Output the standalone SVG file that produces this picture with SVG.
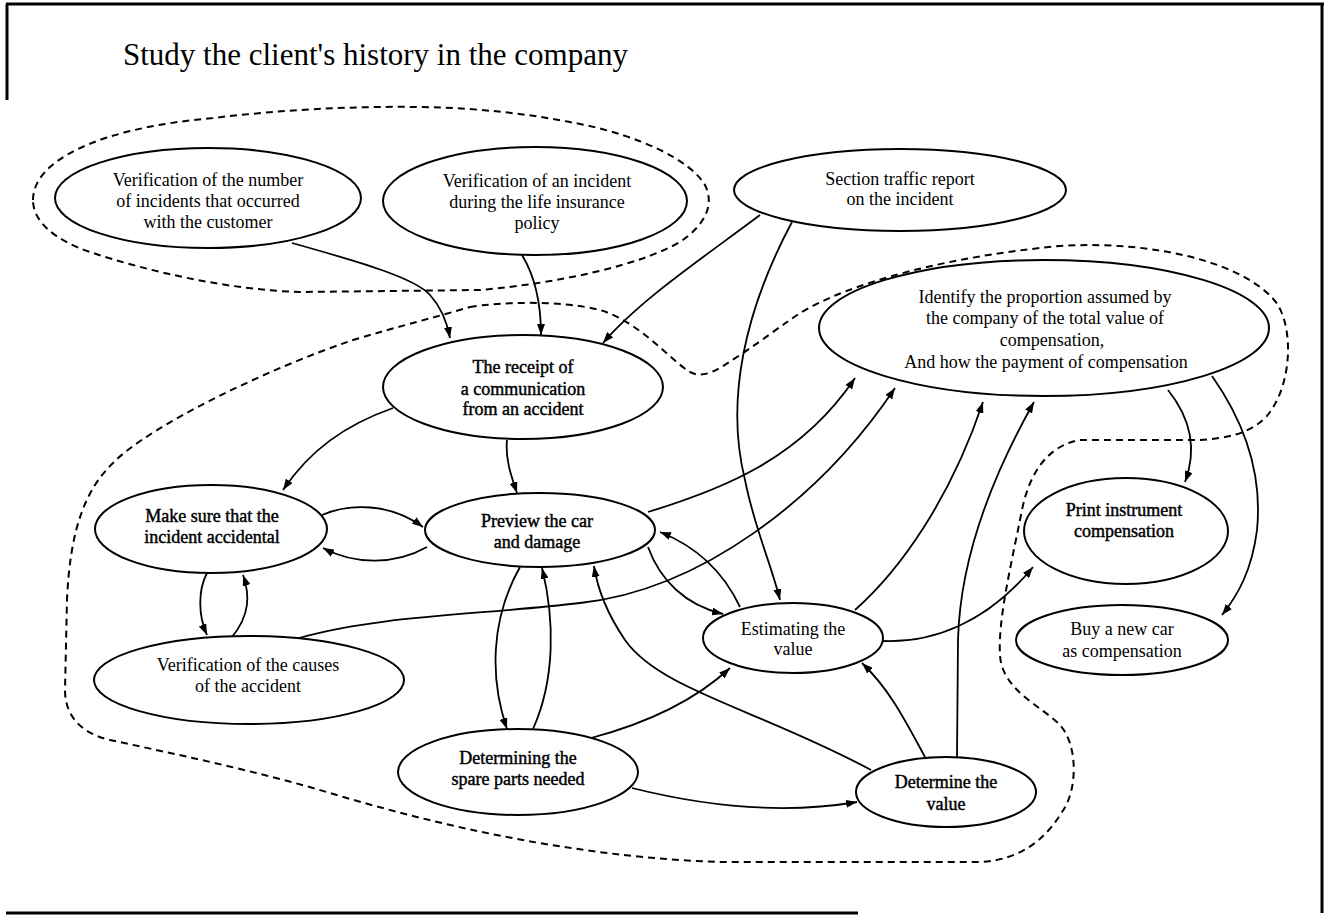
<svg xmlns="http://www.w3.org/2000/svg" width="1329" height="917" viewBox="0 0 1329 917">
  <style>
    .frame { stroke: #000; stroke-width: 3; fill: none; }
    .zone { fill: none; stroke: #000; stroke-width: 2; stroke-dasharray: 7 5; }
    .edge { fill: none; stroke: #000; stroke-width: 1.8; marker-end: url(#arrow); }
    .node ellipse { fill: #fff; stroke: #000; stroke-width: 2; }
    .node text { font-family: "Liberation Serif", "Times New Roman", serif; font-size: 18px; text-anchor: middle; fill: #000; }
    .node.heavy text { stroke: #000; stroke-width: 0.45; }
    .title { font-family: "Liberation Serif", "Times New Roman", serif; font-size: 31px; fill: #000; }
  </style>
  <defs>
    <marker id="arrow" markerUnits="userSpaceOnUse" markerWidth="11" markerHeight="8" refX="11" refY="4" orient="auto">
      <path d="M0,0 L11,4 L0,8 z" fill="#000"/>
    </marker>
  </defs>

  <rect width="1329" height="917" fill="#fff"/>

  <!-- page frame -->
  <g id="frame">
    <line class="frame" x1="6" y1="4" x2="1324" y2="4"/>
    <line class="frame" x1="1322" y1="3" x2="1322" y2="913"/>
    <line class="frame" x1="6" y1="913" x2="858" y2="913"/>
    <line class="frame" x1="7" y1="4" x2="7" y2="100"/>
  </g>

  <text class="title" x="123" y="65">Study the client's history in the company</text>

  <!-- dashed zones -->
  <g id="zones">
    <path class="zone" d="M33,200 C33,160 100,128 213,118 C280,110 350,106 420,107 C480,108 530,114 580,124 C640,136 690,160 705,185 C715,205 705,225 680,242 C640,265 560,283 480,290 L300,292 C230,290 150,272 90,252 C55,240 33,222 33,200 Z"/>
    <path class="zone" d="M470,307 C500,302 560,300 600,310 C640,322 670,360 690,372 C705,380 720,368 740,355 C760,342 775,330 790,320 C830,290 930,258 1060,246 C1160,240 1250,265 1278,305 C1295,335 1290,390 1266,417 C1250,433 1230,438 1200,440 L1080,440 C1050,445 1030,470 1022,510 C1010,570 998,620 1000,655 C1002,690 1040,705 1060,725 C1078,745 1078,790 1062,812 C1045,840 1020,860 980,862 L720,862 C600,858 470,835 330,793 C260,772 180,755 110,740 C80,733 65,715 65,690 L67,600 C70,530 85,490 113,463 C150,425 270,368 353,340 C400,326 440,316 470,307 Z"/>
  </g>

  <!-- connectors -->
  <g id="edges">
    <path class="edge" d="M292,243 C360,262 415,278 430,295 C442,308 447,322 450,338"/>
    <path class="edge" d="M522,255 C536,278 541,305 541,335"/>
    <path class="edge" d="M760,215 C700,260 640,300 603,343"/>
    <path class="edge" d="M792,222 C745,310 725,400 745,480 C755,530 770,560 780,600"/>
    <path class="edge" d="M393,408 C345,425 310,450 283,490"/>
    <path class="edge" d="M507,440 C505,460 512,478 517,493"/>
    <path class="edge" d="M322,515 C350,503 390,503 423,527"/>
    <path class="edge" d="M427,547 C395,565 355,565 323,548"/>
    <path class="edge" d="M207,573 C198,590 198,615 207,635"/>
    <path class="edge" d="M232,637 C250,615 250,595 243,575"/>
    <path class="edge" d="M299,638 C380,615 480,615 580,603 C700,590 820,500 895,388"/>
    <path class="edge" d="M648,512 C720,490 800,460 855,378"/>
    <path class="edge" d="M740,607 C725,575 700,548 660,532"/>
    <path class="edge" d="M648,547 C660,580 685,605 723,614"/>
    <path class="edge" d="M855,610 C900,570 950,500 983,402"/>
    <path class="edge" d="M957,757 L958,640 C960,560 990,480 1034,402"/>
    <path class="edge" d="M883,641 C930,643 985,625 1033,567"/>
    <path class="edge" d="M925,757 C905,720 890,690 862,663"/>
    <path class="edge" d="M871,770 C760,710 660,690 625,640 C608,615 598,592 594,566"/>
    <path class="edge" d="M520,567 C490,620 490,680 507,729"/>
    <path class="edge" d="M533,729 C555,680 555,620 542,568"/>
    <path class="edge" d="M591,738 C640,725 690,705 730,668"/>
    <path class="edge" d="M632,788 C700,805 780,815 857,802"/>
    <path class="edge" d="M1168,390 C1192,420 1197,450 1185,482"/>
    <path class="edge" d="M1212,376 C1250,430 1262,480 1257,530 C1252,570 1238,595 1222,615"/>
  </g>

  <!-- nodes -->
  <g id="n-verify-count" class="node">
    <ellipse cx="208" cy="198" rx="153" ry="50"/>
    <text x="208" y="186">Verification of the number</text>
    <text x="208" y="207">of incidents that occurred</text>
    <text x="208" y="228">with the customer</text>
  </g>
  <g id="n-verify-policy" class="node">
    <ellipse cx="535" cy="201" rx="152" ry="54"/>
    <text x="537" y="187">Verification of an incident</text>
    <text x="537" y="208">during the life insurance</text>
    <text x="537" y="229">policy</text>
  </g>
  <g id="n-traffic-report" class="node">
    <ellipse cx="900" cy="190" rx="166" ry="41"/>
    <text x="900" y="185">Section traffic report</text>
    <text x="900" y="205">on the incident</text>
  </g>
  <g id="n-proportion" class="node">
    <ellipse cx="1044" cy="328" rx="225" ry="68"/>
    <text x="1045" y="303">Identify the proportion assumed by</text>
    <text x="1045" y="324">the company of the total value of</text>
    <text x="1052" y="346">compensation,</text>
    <text x="1046" y="368">And how the payment of compensation</text>
  </g>
  <g id="n-receipt" class="node heavy">
    <ellipse cx="523" cy="387" rx="140" ry="52"/>
    <text x="523" y="373">The receipt of</text>
    <text x="523" y="395">a communication</text>
    <text x="523" y="415">from an accident</text>
  </g>
  <g id="n-accidental" class="node heavy">
    <ellipse cx="211" cy="529" rx="116" ry="44"/>
    <text x="212" y="522">Make sure that the</text>
    <text x="212" y="543">incident accidental</text>
  </g>
  <g id="n-preview" class="node heavy">
    <ellipse cx="540" cy="530" rx="115" ry="37"/>
    <text x="537" y="527">Preview the car</text>
    <text x="537" y="548">and damage</text>
  </g>
  <g id="n-causes" class="node">
    <ellipse cx="249" cy="680" rx="155" ry="44"/>
    <text x="248" y="671">Verification of the causes</text>
    <text x="248" y="692">of the accident</text>
  </g>
  <g id="n-spare-parts" class="node heavy">
    <ellipse cx="518" cy="772" rx="120" ry="43"/>
    <text x="518" y="764">Determining the</text>
    <text x="518" y="785">spare parts needed</text>
  </g>
  <g id="n-estimating" class="node">
    <ellipse cx="793" cy="638" rx="90" ry="35"/>
    <text x="793" y="635">Estimating the</text>
    <text x="793" y="655">value</text>
  </g>
  <g id="n-determine" class="node heavy">
    <ellipse cx="946" cy="792" rx="90" ry="35"/>
    <text x="946" y="788">Determine the</text>
    <text x="946" y="810">value</text>
  </g>
  <g id="n-print" class="node heavy">
    <ellipse cx="1126" cy="531" rx="102" ry="53"/>
    <text x="1124" y="516">Print instrument</text>
    <text x="1124" y="537">compensation</text>
  </g>
  <g id="n-new-car" class="node">
    <ellipse cx="1122" cy="640" rx="106" ry="35"/>
    <text x="1122" y="635">Buy a new car</text>
    <text x="1122" y="657">as compensation</text>
  </g>
</svg>
